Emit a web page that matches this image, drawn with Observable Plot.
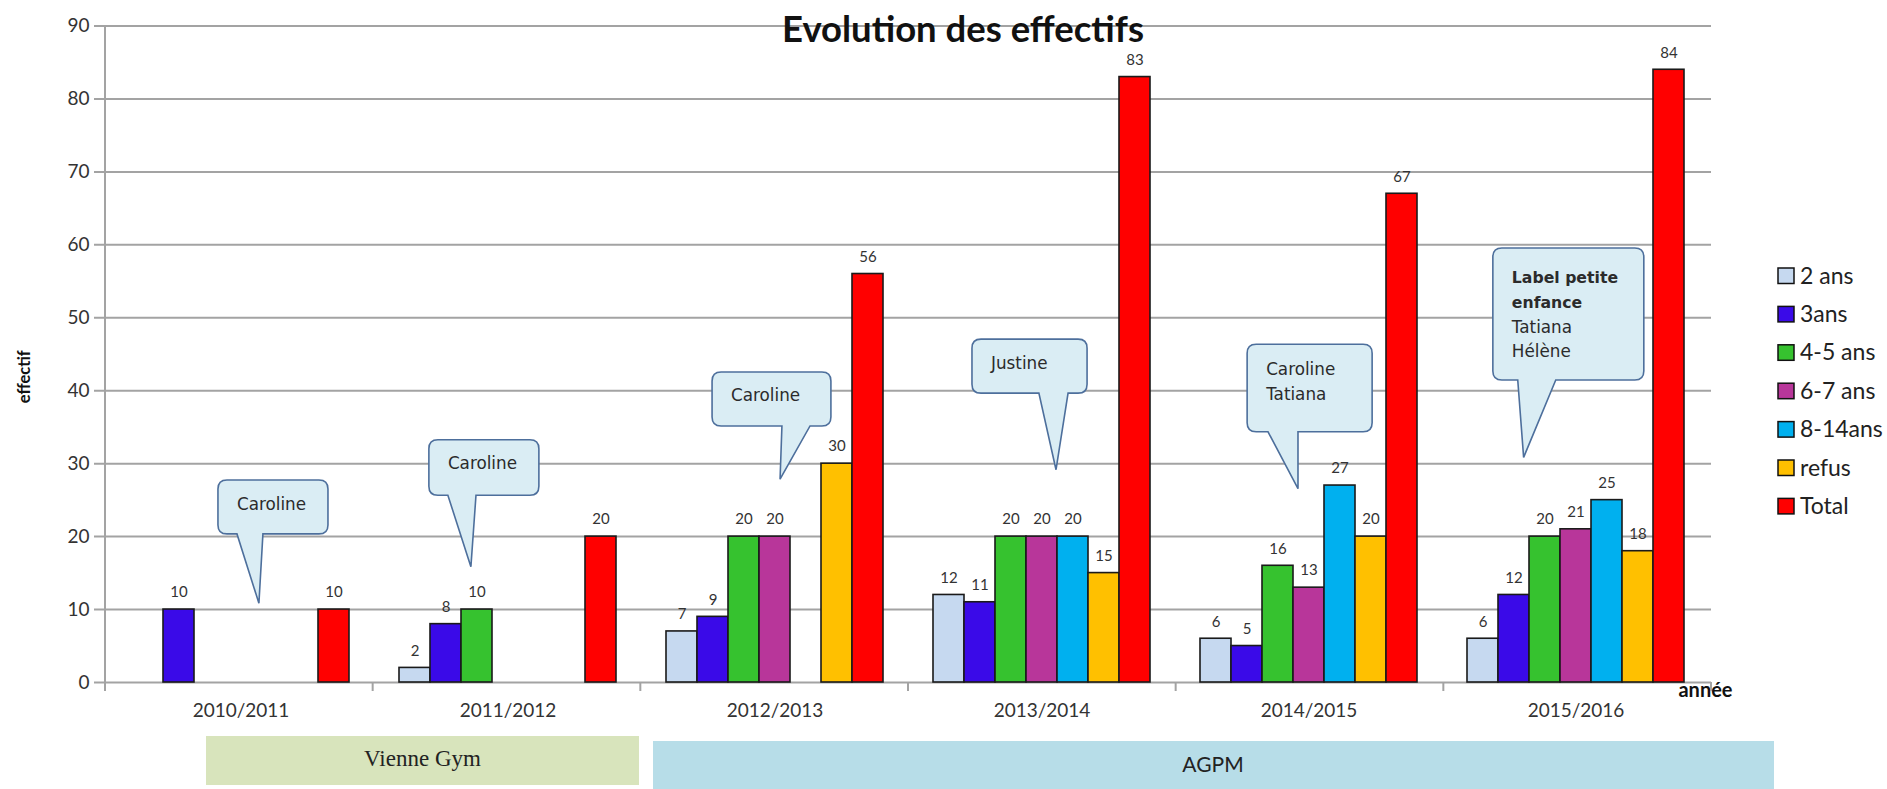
<!DOCTYPE html>
<html>
<head>
<meta charset="utf-8">
<script src="https://cdn.jsdelivr.net/npm/d3@7"></script>
<script src="https://cdn.jsdelivr.net/npm/@observablehq/plot@0.6"></script>
<style>
  html, body { margin: 0; padding: 0; background: #fff; }
  #wrap { position: relative; width: 1887px; height: 789px; overflow: hidden; }
  #wrap > svg { position: absolute; left: 0; top: 0; max-width: none; }
</style>
</head>
<body>
<div id="wrap"></div>
<script>
// ---------- data ----------
const years = ["2010/2011", "2011/2012", "2012/2013", "2013/2014", "2014/2015", "2015/2016"];
const series = ["2 ans", "3ans", "4-5 ans", "6-7 ans", "8-14ans", "refus", "Total"];
const colors = ["#c6d9f0", "#3a0ae8", "#36c22f", "#b8369a", "#00b0ef", "#ffc000", "#ff0000"];
const v2ans  = [null, 2, 7, 12, 6, 6];
const v3ans  = [10, 8, 9, 11, 5, 12];
const v45ans = [null, 10, 20, 20, 16, 20];
const v67ans = [null, null, 20, 20, 13, 21];
const v814ans = [null, null, null, 20, 27, 25];
const vrefus = [null, null, 30, 15, 20, 18];
const vtotal = [10, 20, 56, 83, 67, 84];
const yTicks = [0, 10, 20, 30, 40, 50, 60, 70, 80, 90];
const title = "Evolution des effectifs";
const yLabel = "effectif";
const xLabel = "année";
const clubs = ["Vienne Gym", "AGPM"];
const noteTexts = [
  ["Caroline"],
  ["Caroline"],
  ["Caroline"],
  ["Justine"],
  ["Caroline", "Tatiana"],
  ["Label petite", "enfance", "Tatiana", "Hélène"]
];

const bySeries = [v2ans, v3ans, v45ans, v67ans, v814ans, vrefus, vtotal];
const rows = [];
years.forEach((yr, i) => series.forEach((s, j) => {
  const v = bySeries[j][i];
  if (v != null) rows.push({year: yr, series: s, value: v});
}));

// ---------- layout ----------
const W = 1887, H = 789;
const base = {width: W, height: H, marginTop: 25.5, marginRight: 176, marginBottom: 107, marginLeft: 105};
const gridColor = "#a3a3a3";

// background layer: grid, axes, labels
const bg = Plot.plot({
  ...base,
  style: {fontFamily: "Lato, sans-serif", fontSize: "19px", color: "#333", background: "transparent", overflow: "visible"},
  x: {type: "band", domain: years, padding: 0, tickSize: 0, tickPadding: 21, label: null},
  y: {domain: [0, 90], ticks: yTicks, tickSize: 0, tickPadding: 16, label: null},
  marks: [
    Plot.ruleY(yTicks, {stroke: gridColor, strokeWidth: 2, insetLeft: -11}),
    Plot.text([xLabel], {text: d => d, frameAnchor: "bottom-right", textAnchor: "middle", lineAnchor: "top", dx: -6, dy: 0, fontWeight: "bold", fontSize: 20, fill: "#111"}),
    Plot.text([yLabel], {text: d => d, frameAnchor: "left", rotate: -90, dx: -81, dy: 49, fontWeight: "bold", fontSize: 16.5, fill: "#111"})
  ]
});

// foreground layer: grouped bars (faceted by year)
const fg = Plot.plot({
  ...base,
  style: {fontFamily: "Lato, sans-serif", background: "transparent", overflow: "visible"},
  facet: {data: rows, x: "year"},
  fx: {domain: years, paddingInner: 0.18, paddingOuter: 0.09, axis: null, label: null},
  x: {domain: series, padding: 0, axis: null},
  y: {domain: [0, 90], axis: null},
  color: {domain: series, range: colors},
  marks: [
    Plot.barY(rows, {x: "series", y: "value", fill: "series", stroke: "#1a1a1a", strokeWidth: 1.6}),
    Plot.text(rows, {x: "series", y: "value", text: d => String(d.value), dy: -17, fontSize: 15, fill: "#333"})
  ]
});

const wrap = document.getElementById("wrap");
wrap.appendChild(bg);
wrap.appendChild(fg);

const svg = d3.select(bg.tagName.toLowerCase() === "svg" ? bg : bg.querySelector("svg"));
const xs = bg.scale("x"), ys = bg.scale("y");
const y0 = ys.apply(0), yTop = ys.apply(90);
const xL = Math.min(...xs.range), xR = Math.max(...xs.range);
const step = (xR - xL) / years.length;
const bandStart = yr => xL + years.indexOf(yr) * step;

// axis line + category boundary ticks
const ag = svg.append("g").attr("stroke", gridColor).attr("stroke-width", 2);
ag.append("line").attr("x1", xL).attr("x2", xL).attr("y1", yTop).attr("y2", y0 + 9);
years.slice(1).map(bandStart).concat([xR]).forEach(bx => {
  ag.append("line").attr("x1", bx).attr("x2", bx).attr("y1", y0).attr("y2", y0 + 9);
});

// callouts (anchored in data space: category fraction + y value)
const noteLayout = [
  {year: "2010/2011", box: [0.422, 0.833, 27.7, 20.3], tail: [0.493, 0.590], tip: [0.575, 10.8], ty: 30, nBold: 0},
  {year: "2011/2012", box: [0.210, 0.621, 33.2, 25.6], tail: [0.281, 0.386], tip: [0.367, 15.8], ty: 29, nBold: 0},
  {year: "2012/2013", box: [0.268, 0.712, 42.5, 35.1], tail: [0.529, 0.634], tip: [0.522, 27.8], ty: 29, nBold: 0},
  {year: "2013/2014", box: [0.239, 0.669, 47.0, 39.6], tail: [0.489, 0.598], tip: [0.553, 29.1], ty: 30, nBold: 0},
  {year: "2014/2015", box: [0.267, 0.734, 46.3, 34.3], tail: [0.345, 0.457], tip: [0.457, 26.5], ty: 31, nBold: 0},
  {year: "2015/2016", box: [0.185, 0.749, 59.5, 41.4], tail: [0.278, 0.420], tip: [0.300, 30.8], ty: 35, nBold: 2}
];
const cg = svg.append("g").attr("text-anchor", "start");
noteLayout.forEach((n, k) => {
  const cx = f => bandStart(n.year) + f * step;
  const x0 = cx(n.box[0]), x1 = cx(n.box[1]);
  const yT = ys.apply(n.box[2]), yB = ys.apply(n.box[3]);
  const bl = cx(n.tail[0]), br = cx(n.tail[1]);
  const tx = cx(n.tip[0]), tyy = ys.apply(n.tip[1]);
  const r = 9;
  const d = `M${x0 + r},${yT} H${x1 - r} Q${x1},${yT} ${x1},${yT + r} V${yB - r} Q${x1},${yB} ${x1 - r},${yB} ` +
            `H${br} L${tx},${tyy} L${bl},${yB} H${x0 + r} Q${x0},${yB} ${x0},${yB - r} V${yT + r} Q${x0},${yT} ${x0 + r},${yT} Z`;
  cg.append("path").attr("d", d).attr("fill", "#daedf4").attr("stroke", "#4d6f9c").attr("stroke-width", 1.6);
  noteTexts[k].forEach((line, i) => {
    cg.append("text")
      .attr("x", x0 + 19).attr("y", yT + n.ty + i * 24.8)
      .attr("text-anchor", "start")
      .attr("font-family", "DejaVu Sans, sans-serif")
      .attr("font-size", i < n.nBold ? 15.7 : 16.8)
      .attr("font-weight", i < n.nBold ? "bold" : "normal")
      .attr("fill", "#2b2b2b")
      .text(line);
  });
});

// title
const t = svg.append("text").attr("x", 963).attr("y", 42).attr("text-anchor", "middle")
  .attr("font-family", "Lato, sans-serif").attr("font-weight", "bold").attr("font-size", 35)
  .attr("fill", "#111").text(title);
const tl = t.node().getComputedTextLength();
if (tl > 0) t.attr("font-size", 35 * 362 / tl);

// legend
const lg = svg.append("g").attr("text-anchor", "start");
series.forEach((s, i) => {
  const top = 268 + i * 38.4;
  lg.append("rect").attr("x", 1778).attr("y", top).attr("width", 16).attr("height", 15.5)
    .attr("fill", colors[i]).attr("stroke", "#111").attr("stroke-width", 1.5);
  lg.append("text").attr("x", 1800).attr("y", top + 15.5).attr("text-anchor", "start")
    .attr("font-family", "Lato, sans-serif").attr("font-size", 23).attr("fill", "#222").text(s);
});

// club bands
const bandsG = svg.append("g");
bandsG.append("rect").attr("x", 206).attr("y", 736).attr("width", 433).attr("height", 49).attr("fill", "#d8e4bc");
bandsG.append("text").attr("x", 422.5).attr("y", 765.5).attr("text-anchor", "middle")
  .attr("font-family", "Liberation Serif, serif").attr("font-size", 23).attr("fill", "#222").text(clubs[0]);
bandsG.append("rect").attr("x", 653).attr("y", 741).attr("width", 1121).attr("height", 60).attr("fill", "#b7dde8");
bandsG.append("text").attr("x", 1213).attr("y", 772).attr("text-anchor", "middle")
  .attr("font-family", "Lato, sans-serif").attr("font-size", 21).attr("fill", "#222").text(clubs[1]);
</script>
</body>
</html>
